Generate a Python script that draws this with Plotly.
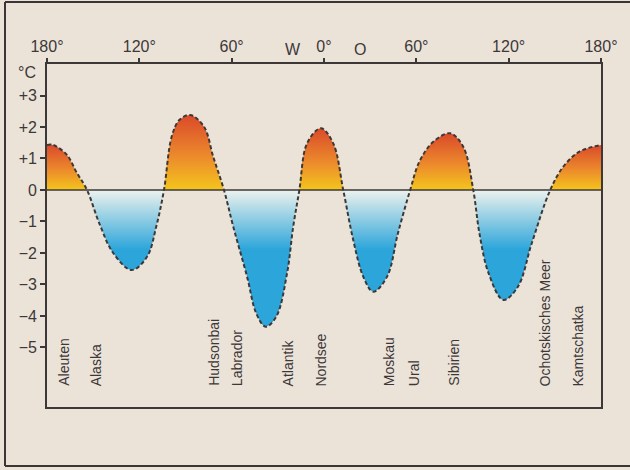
import plotly.graph_objects as go

# Longitude (negative = West, positive = East) and temperature deviation in °C
lon = [-180, -176, -167, -161, -154, -146, -137, -125, -115, -109, -104,
       -99, -94, -87, -78, -72, -65, -59, -50, -44, -38, -31, -24, -20, -16,
       -11, -2, 6, 12.5, 19, 25.5, 32, 41, 48, 56, 62, 71, 82, 90.5, 97,
       101, 107, 116.5, 126, 135, 147, 155.5, 166, 180]
temp = [1.43, 1.43, 1.11, 0.58, 0, -1.06, -2.0, -2.54, -2.12, -1.16, 0,
        1.69, 2.22, 2.38, 2.01, 1.06, 0, -1.16, -2.75, -3.92, -4.34, -4.02, -2.64, -1.16, 0,
        1.48, 1.96, 1.48, 0, -1.59, -2.75, -3.23, -2.75, -1.38, 0, 0.9, 1.53, 1.8, 1.37, 0,
        -1.38, -2.65, -3.49, -3.07, -1.69, 0, 0.74, 1.22, 1.43]

x_tick_vals = [-180, -120, -60, 0, 60, 120, 180]
x_tick_text = ["180°", "120°", "60°", "0°", "60°", "120°", "180°"]
y_tick_vals = [-5, -4, -3, -2, -1, 0, 1, 2, 3]
y_tick_text = ["−5", "−4", "−3", "−2", "−1", "0", "+1", "+2", "+3"]

place_names = ["Aleuten", "Alaska", "Hudsonbai", "Labrador", "Atlantik", "Nordsee",
               "Moskau", "Ural", "Sibirien", "Ochotskisches Meer", "Kamtschatka"]
place_lon = [-169.5, -148, -72, -56.5, -23.5, -2, 42, 58.5, 84.5, 143.5, 165]

BG = "#ebe3d8"
INK = "#3d3838"
FONT = "Liberation Sans Narrow, Liberation Sans, Arial, sans-serif"

fig = go.Figure()

# split into lobes at zero crossings
lobes = []
cur_x, cur_y = [lon[0]], [temp[0]]
for xv, yv in zip(lon[1:], temp[1:]):
    cur_x.append(xv)
    cur_y.append(yv)
    if yv == 0:
        lobes.append((cur_x, cur_y))
        cur_x, cur_y = [xv], [yv]
if len(cur_x) > 1:
    lobes.append((cur_x, cur_y))

for lx, ly in lobes:
    positive = max(ly) > 0
    if positive:
        peak = max(ly)
        grad = dict(type="vertical", start=0, stop=peak,
                    colorscale=[[0, "#f4c51c"], [0.45, "#ec8a2c"], [1, "#da4a2a"]])
    else:
        grad = dict(type="vertical", start=0, stop=-1.9,
                    colorscale=[[0, "#edf2ee"], [0.35, "#a9d7e6"], [1, "#2ba5da"]])
    fig.add_trace(go.Scatter(x=lx, y=ly, mode="lines", line=dict(width=0, shape="spline"),
                             fill="tozeroy", fillgradient=grad, hoverinfo="skip"))

fig.add_trace(go.Scatter(x=lon, y=temp, mode="lines",
                         line=dict(color=INK, width=2, dash="4px,2.5px", shape="spline")))

# zero line
fig.add_shape(type="line", xref="x", yref="y", x0=-180, x1=180, y0=0, y1=0,
              line=dict(color=INK, width=1.6), layer="above")

# place names (vertical)
for name, lx in zip(place_names, place_lon):
    fig.add_annotation(x=lx, y=-6.29, xref="x", yref="y", text=name, textangle=-90,
                       showarrow=False, xanchor="center", yanchor="bottom",
                       font=dict(family="Liberation Sans, Arial, sans-serif", size=14, color=INK))

# W / O
fig.add_annotation(x=-20, y=1, xref="x", yref="paper", yshift=15, text="W", showarrow=False,
                   yanchor="middle", font=dict(family=FONT, size=16, color=INK))
fig.add_annotation(x=23.5, y=1, xref="x", yref="paper", yshift=15, text="O", showarrow=False,
                   yanchor="middle", font=dict(family=FONT, size=16, color=INK))
# °C
fig.add_annotation(x=0, y=3.72, xref="paper", yref="y", xshift=-9, text="°C", showarrow=False,
                   xanchor="right", yanchor="middle", font=dict(family=FONT, size=16, color=INK))

fig.update_layout(
    width=630, height=470,
    margin=dict(l=47, r=29, t=64, b=63),
    paper_bgcolor=BG, plot_bgcolor=BG,
    showlegend=False,
    xaxis=dict(range=[-180, 180], side="top", tickvals=x_tick_vals, ticktext=x_tick_text,
               ticks="outside", ticklen=4, tickwidth=1.5, tickcolor=INK,
               showline=True, mirror=True, linecolor=INK, linewidth=1.6,
               showgrid=False, zeroline=False,
               tickfont=dict(family=FONT, size=16, color=INK)),
    yaxis=dict(range=[-6.89, 4.0], tickvals=y_tick_vals, ticktext=y_tick_text,
               ticks="outside", ticklen=5, tickwidth=1.5, tickcolor=INK,
               showline=True, mirror=True, linecolor=INK, linewidth=1.6,
               showgrid=False, zeroline=False,
               tickfont=dict(family=FONT, size=16, color=INK)),
)

# scan frame lines (paper coords relative to plot area)
pw, ph = 630 - 47 - 29, 470 - 64 - 63
def px(xp):
    return (xp - 47) / pw
def py(yp):
    return (470 - 63 - yp) / ph
frame = dict(color="#3a3636", width=2)
fig.add_shape(type="line", xref="paper", yref="paper", x0=px(5), x1=px(5), y0=py(2), y1=py(466), line=frame)
fig.add_shape(type="line", xref="paper", yref="paper", x0=px(5), x1=px(630), y0=py(2), y1=py(2), line=frame)
fig.add_shape(type="line", xref="paper", yref="paper", x0=px(5), x1=px(630), y0=py(466), y1=py(466), line=frame)

fig.write_html("out.html", config={"displayModeBar": False},
               post_script="document.body.style.margin='0';document.body.style.overflow='hidden';"
                           "document.body.style.background='" + BG + "';")
